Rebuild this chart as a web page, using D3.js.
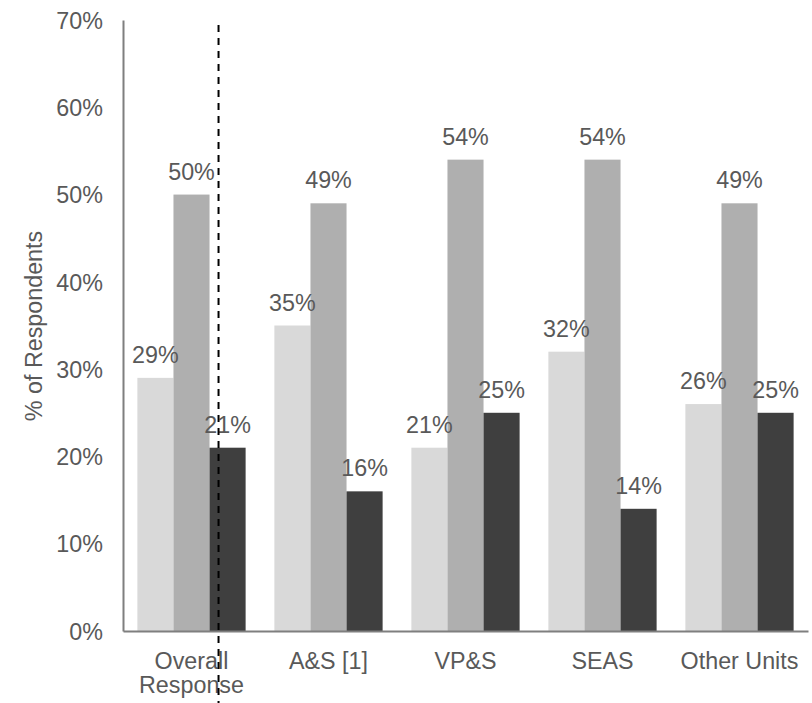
<!DOCTYPE html>
<html>
<head>
<meta charset="utf-8">
<script src="https://cdn.jsdelivr.net/npm/d3@7"></script>
<style>
  html, body { margin: 0; padding: 0; background: #fff; }
  svg text { font-family: "Liberation Sans", Arial, sans-serif; fill: #595959; }
</style>
</head>
<body>
<svg id="chart" width="812" height="703"></svg>
<script>
// Response shares by unit (three response groups per unit)
const categories = ["Overall Response", "A&S [1]", "VP&S", "SEAS", "Other Units"];
const seriesNames = ["Group 1", "Group 2", "Group 3"];
const group1 = [29, 35, 21, 32, 26];
const group2 = [50, 49, 54, 54, 49];
const group3 = [21, 16, 25, 14, 25];
const yTicks = [0, 10, 20, 30, 40, 50, 60, 70];
const colors = ["#d9d9d9", "#afafaf", "#3f3f3f"];

const svg = d3.select("#chart");
const plotLeft = 123, plotRight = 808, plotTop = 20, plotBottom = 631;
const fontSize = 23.3;

const x0 = d3.scaleBand().domain(categories).range([plotLeft, plotRight]).paddingInner(0.21).paddingOuter(0.105);
const x1 = d3.scaleBand().domain(seriesNames).range([0, x0.bandwidth()]);
const y = d3.scaleLinear().domain([0, 70]).range([plotBottom, plotTop]);

const rows = categories.map((c, i) => ({
  cat: c,
  vals: [group1[i], group2[i], group3[i]]
}));

// bars
const g = svg.append("g");
rows.forEach(r => {
  r.vals.forEach((v, j) => {
    const bx = x0(r.cat) + x1(seriesNames[j]);
    g.append("rect")
      .attr("x", bx)
      .attr("y", y(v))
      .attr("width", x1.bandwidth())
      .attr("height", y(0) - y(v))
      .attr("fill", colors[j]);
  });
});

// value labels
const labels = svg.append("g");
rows.forEach(r => {
  r.vals.forEach((v, j) => {
    const bx = x0(r.cat) + x1(seriesNames[j]);
    labels.append("text")
      .attr("x", bx + x1.bandwidth() / 2)
      .attr("y", y(v) - 15)
      .attr("text-anchor", "middle")
      .attr("font-size", fontSize)
      .text(v + "%");
  });
});

// y axis
const yAxis = d3.axisLeft(y).tickValues(yTicks).tickSize(0).tickPadding(20)
  .tickFormat(d => d + "%");
const ya = svg.append("g").attr("transform", `translate(${plotLeft},0)`).call(yAxis);
ya.select(".domain").attr("stroke", "#7f7f7f").attr("stroke-width", 2);
ya.selectAll("text").attr("font-size", fontSize).attr("fill", "#595959").attr("dy", "0.35em")
  .style("font-family", "Liberation Sans, Arial, sans-serif");

// x axis
const xAxis = d3.axisBottom(x0).tickSize(0).tickPadding(0).tickFormat("");
const xa = svg.append("g").attr("transform", `translate(0,${plotBottom})`).call(xAxis);
xa.select(".domain").attr("stroke", "#7f7f7f").attr("stroke-width", 2);

// category labels (wrapped to two lines where needed)
categories.forEach(c => {
  const words = c === "Overall Response" ? ["Overall", "Response"] : [c];
  const t = svg.append("text")
    .attr("x", x0(c) + x0.bandwidth() / 2)
    .attr("y", 669)
    .attr("text-anchor", "middle")
    .attr("font-size", fontSize);
  words.forEach((w, k) => {
    t.append("tspan")
      .attr("x", x0(c) + x0.bandwidth() / 2)
      .attr("dy", k === 0 ? 0 : 23.5)
      .text(w);
  });
});

// y axis title
svg.append("text")
  .attr("transform", "translate(42,326) rotate(-90)")
  .attr("text-anchor", "middle")
  .attr("font-size", fontSize)
  .text("% of Respondents");

// dashed divider through the overall group
const divX = x0(categories[0]) + x1("Group 3") + 9;
svg.append("line")
  .attr("x1", divX).attr("x2", divX)
  .attr("y1", 25).attr("y2", 703)
  .attr("stroke", "#000")
  .attr("stroke-width", 2)
  .attr("stroke-dasharray", "7,6");
</script>
</body>
</html>
